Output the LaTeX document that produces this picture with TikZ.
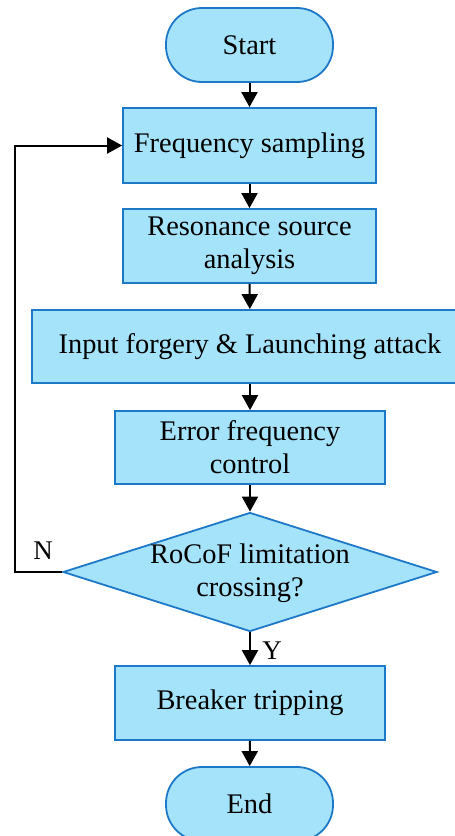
\documentclass[tikz,border=0pt]{standalone}
\usepackage{fontspec}
\setmainfont{Liberation Serif}
\usetikzlibrary{shapes.geometric,arrows.meta}
\definecolor{boxfill}{HTML}{A5E3FA}
\definecolor{boxline}{HTML}{1E78C8}
\begin{document}
\begin{tikzpicture}[x=1pt,y=1pt,
  every node/.style={font=\fontsize{28.4}{33}\selectfont},
  procbox/.style={draw=boxline, fill=boxfill, line width=1.8pt, rectangle,
    inner sep=0pt, align=center},
  termbox/.style={procbox, rounded corners=36pt, minimum width=167pt, minimum height=74pt},
  decbox/.style={draw=boxline, fill=boxfill, line width=1.8pt, diamond,
    inner sep=0pt, minimum width=374pt, minimum height=119pt},
  flow/.style={line width=2pt, -{Triangle[length=15pt,width=16pt]}},
  tag/.style={font=\fontsize{27}{30}\selectfont}]
\useasboundingbox (0,0) rectangle (455,-836);

\node[termbox] (start) at (249.5,-45) {Start};
\node[procbox, minimum width=253pt, minimum height=75pt] (fs) at (249.5,-145.5) {Frequency sampling};
\node[procbox, minimum width=253pt, minimum height=74pt] (rsa) at (249.5,-246) {Resonance source\\analysis};
\node[procbox, minimum width=436pt, minimum height=73pt] (ifa) at (250,-346.5) {Input forgery \& Launching attack};
\node[procbox, minimum width=270pt, minimum height=73pt] (efc) at (250,-447.5) {Error frequency\\control};
\node[decbox] (dec) at (250,-572) {};
\node[align=center, inner sep=0pt] (dectext) at (250,-573) {RoCoF limitation\\crossing?};
\node[procbox, minimum width=270pt, minimum height=74pt] (bt) at (250,-703) {Breaker tripping};
\node[termbox] (end) at (249.5,-804) {End};

\draw[flow] (start) -- (fs);
\draw[flow] (fs) -- (rsa);
\draw[flow] (rsa) -- (ifa);
\draw[flow] (ifa) -- (efc);
\draw[flow] (efc) -- (dec);
\draw[flow] (dec) -- (bt);
\draw[flow] (bt) -- (end);

\coordinate (loop) at (15,-572);
\draw[flow] (dec.west) -- (loop) |- (fs.west);

\node[tag] (nlab) at (43,-551) {N};
\node[tag] (ylab) at (272,-651) {Y};
\end{tikzpicture}
\end{document}
